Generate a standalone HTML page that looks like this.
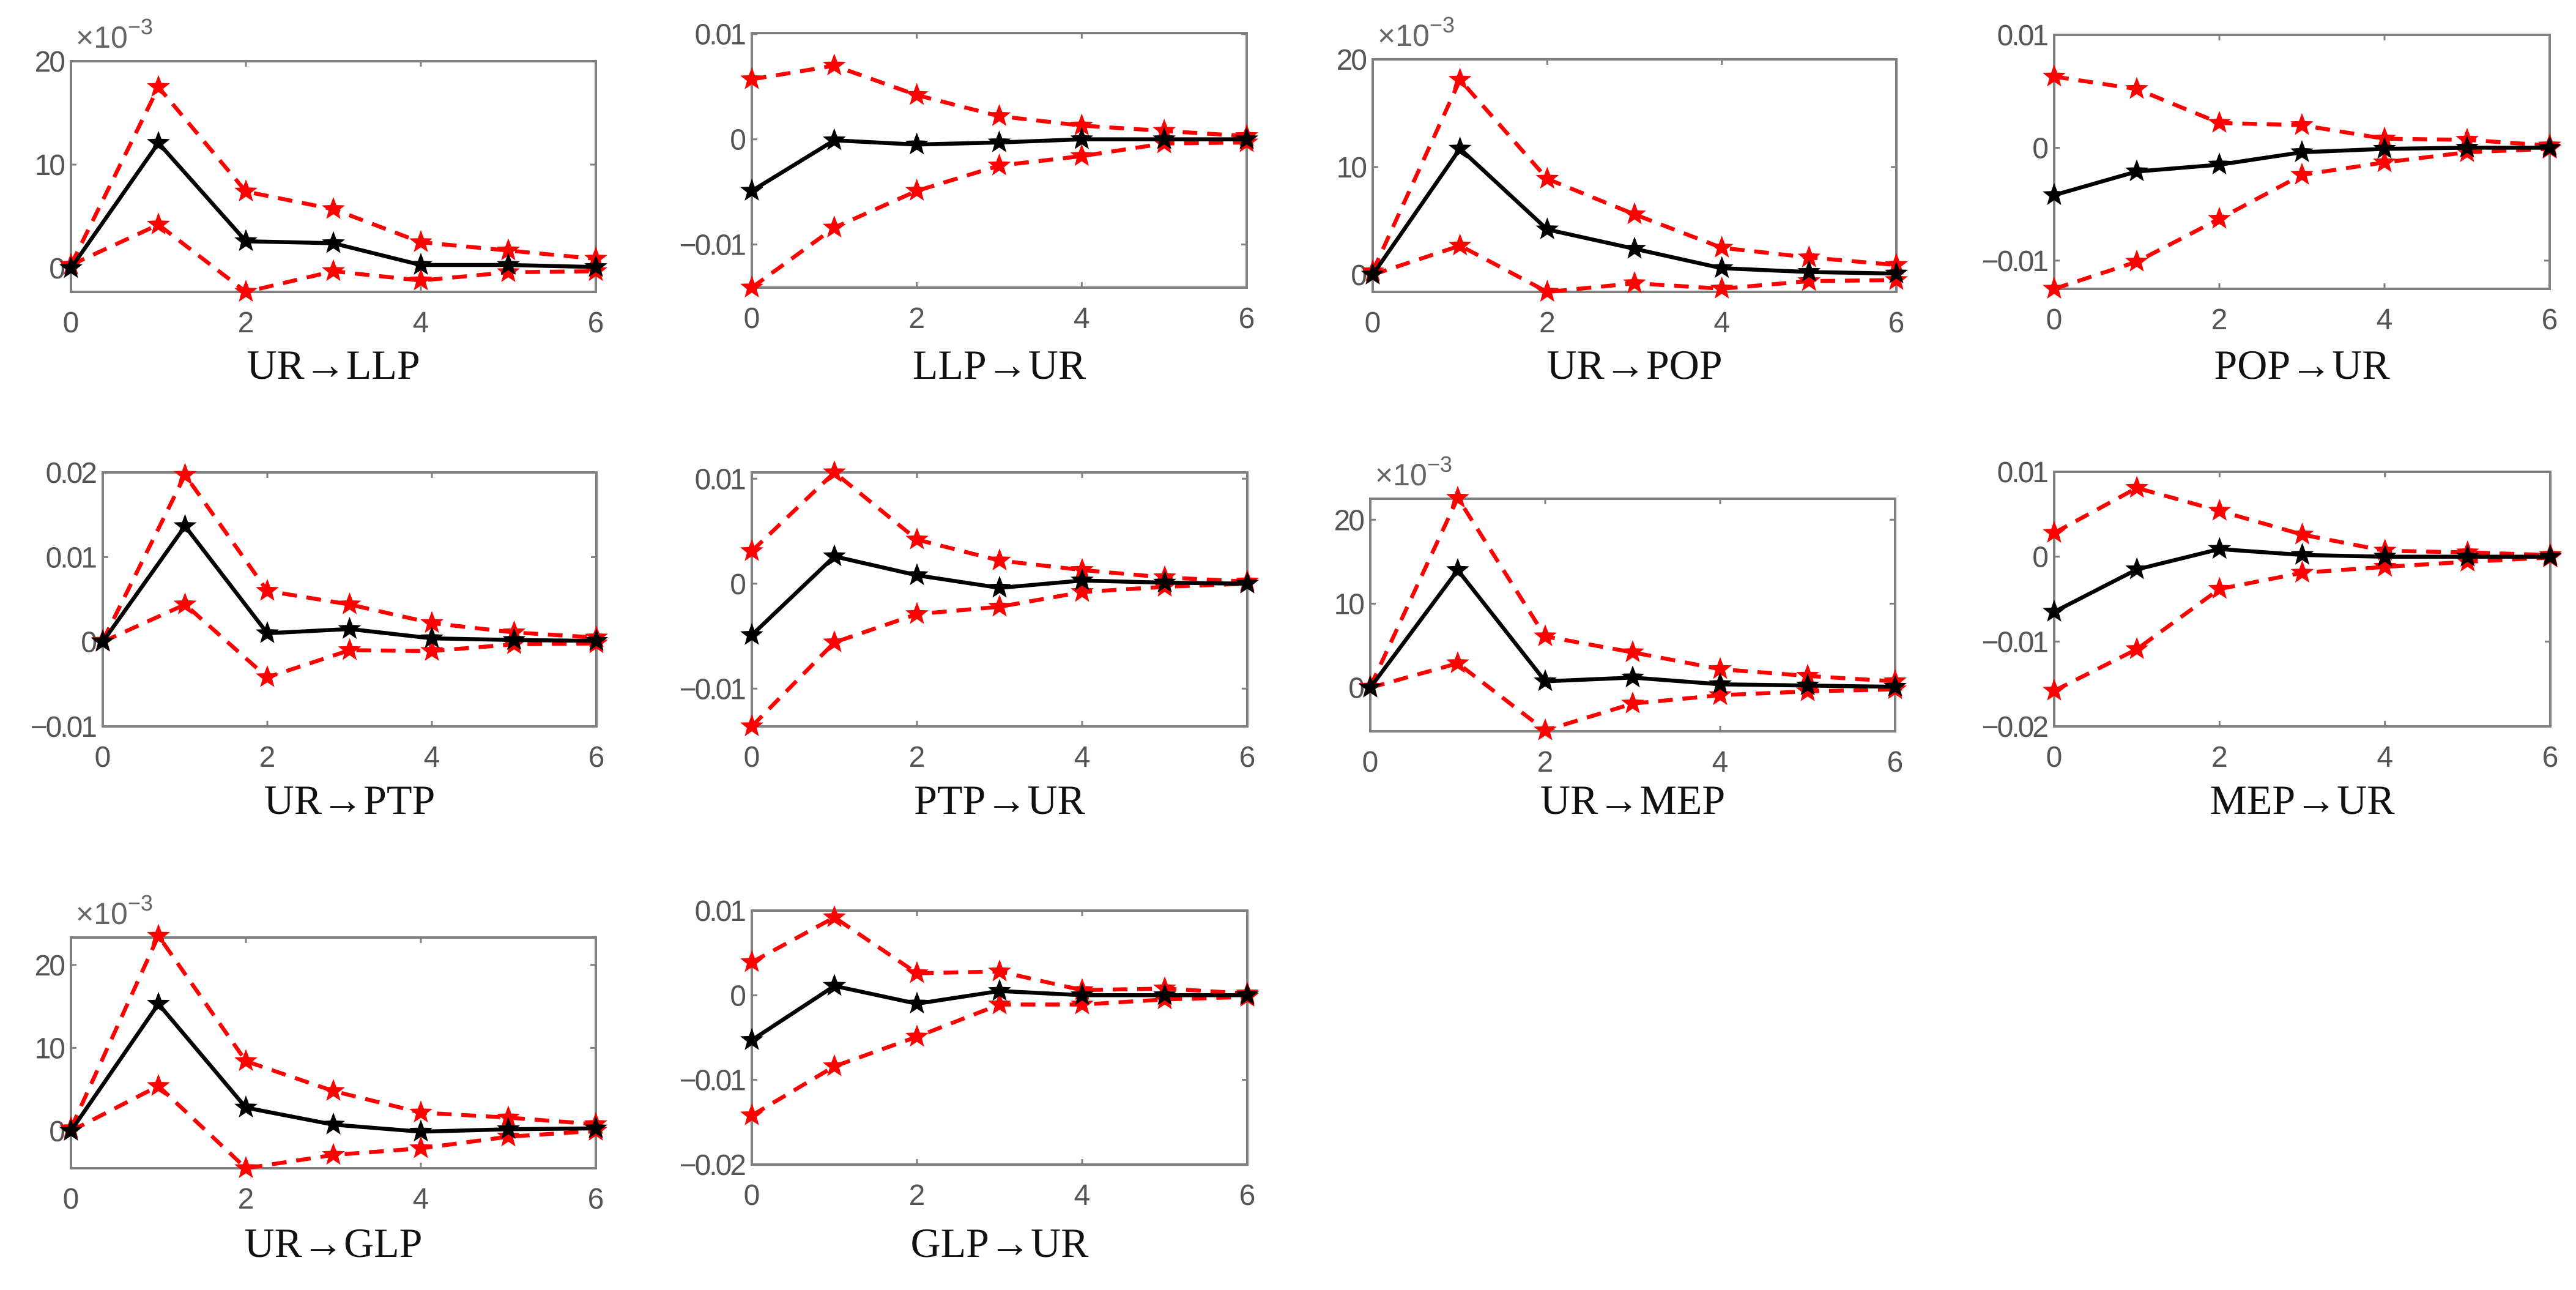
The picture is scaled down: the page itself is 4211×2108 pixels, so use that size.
<!DOCTYPE html>
<html><head><meta charset="utf-8"><style>
html,body{margin:0;padding:0;background:#fff;}
svg{display:block;}
</style></head><body>
<svg id="fig" xmlns="http://www.w3.org/2000/svg" width="4211" height="2108" viewBox="0 0 4211 2108"></svg>
<script>
const panelTitles = ["UR→LLP","LLP→UR","UR→POP","POP→UR","UR→PTP","PTP→UR","UR→MEP","MEP→UR","UR→GLP","GLP→UR"];
const horizons = [0,1,2,3,4,5,6];
const xTicks = [0,2,4,6];
const yLimMin = [-2.3,-0.0141,-1.6,-0.0125,-0.01,-0.0136,-5.2,-0.02,-4.5,-0.02];
const yLimMax = [20,0.0101,20,0.0100,0.02,0.0106,22.5,0.01,23.3,0.01];
const yTickValues = [[0,10,20],[-0.01,0,0.01],[0,10,20],[-0.01,0,0.01],[-0.01,0,0.01,0.02],[-0.01,0,0.01],[0,10,20],[-0.02,-0.01,0,0.01],[0,10,20],[-0.02,-0.01,0,0.01]];
const scaleExp = [true,false,true,false,false,false,true,false,true,false];
const irfMid = [
 [0,12.1,2.6,2.4,0.3,0.3,0.1],
 [-0.0049,-0.0001,-0.0005,-0.0003,0,0,0],
 [0,11.7,4.2,2.4,0.6,0.25,0.1],
 [-0.0042,-0.0021,-0.0015,-0.0004,-0.0001,0,0],
 [0,0.01365,0.001,0.0015,0.0004,0.0002,0.0001],
 [-0.0049,0.0026,0.0008,-0.0004,0.0003,0.0001,0],
 [0,14.0,0.75,1.2,0.4,0.25,0.1],
 [-0.0065,-0.0015,0.0009,0.0002,0,0,0],
 [0,15.3,2.8,0.75,-0.1,0.2,0.3],
 [-0.0053,0.0011,-0.001,0.0005,0,0,0]
];
const irfUpper = [
 [0.3,17.5,7.4,5.7,2.5,1.7,0.9],
 [0.0057,0.007,0.0042,0.0022,0.0013,0.0008,0.0003],
 [0.3,18.1,8.9,5.6,2.5,1.6,0.9],
 [0.0063,0.0052,0.0022,0.002,0.0008,0.0007,0.0002],
 [0.0001,0.0197,0.006,0.0044,0.0022,0.0011,0.0005],
 [0.0031,0.0106,0.0042,0.0022,0.0013,0.0006,0.0002],
 [0.1,22.6,6.1,4.2,2.2,1.4,0.75],
 [0.0028,0.0081,0.0054,0.0026,0.0007,0.0005,0.0002],
 [0.3,23.5,8.4,4.8,2.2,1.6,0.8],
 [0.0039,0.0092,0.0026,0.0028,0.0006,0.0008,0.0002]
];
const irfLower = [
 [0.3,4.2,-2.3,-0.3,-1.2,-0.4,-0.3],
 [-0.0141,-0.0084,-0.0049,-0.0025,-0.0016,-0.0004,-0.0003],
 [0,2.7,-1.6,-0.8,-1.3,-0.6,-0.5],
 [-0.0125,-0.0101,-0.0063,-0.0024,-0.0013,-0.0004,-0.0001],
 [0,0.0044,-0.0042,-0.001,-0.0011,-0.0003,-0.0002],
 [-0.0136,-0.0056,-0.0029,-0.0022,-0.0008,-0.0003,0],
 [0,2.9,-5.1,-1.9,-0.9,-0.45,-0.2],
 [-0.0158,-0.0109,-0.0038,-0.0019,-0.0012,-0.0006,-0.0001],
 [0,5.4,-4.5,-2.9,-2.1,-0.7,0],
 [-0.0142,-0.0084,-0.0049,-0.0011,-0.0011,-0.0005,-0.0002]
];
// layout (pixel boxes) — not data
const boxes = [
 [116,974,100,477],[1229,2038,54,470],[2244,3100,97,477],[3358,4168,57,472],
 [168,975,772,1187],[1229,2039,772,1187],[2240,3098,815,1195],[3358,4169,771,1187],
 [116,974,1532,1909],[1229,2039,1488,1903]
];
const titleY = [596,596,596,596,1307,1307,1307,1307,2031,2031];

const NS = "http://www.w3.org/2000/svg";
const svg = document.getElementById("fig");
function mk(tag, attrs, parent){
  const e = document.createElementNS(NS, tag);
  for (const k in attrs) e.setAttribute(k, attrs[k]);
  (parent||svg).appendChild(e);
  return e;
}
function fmt(v, exp){
  if (exp) return String(v);
  if (v === 0) return "0";
  const s = Math.abs(v).toFixed(2);
  return (v < 0 ? "\u2212" : "") + s;
}
function starPath(cx, cy, r){
  let d = "";
  for (let i = 0; i < 10; i++){
    const rr = i % 2 === 0 ? r : r * 0.42;
    const a = -Math.PI/2 + i * Math.PI/5;
    d += (i ? "L" : "M") + (cx + rr*Math.cos(a)).toFixed(1) + " " + (cy + rr*Math.sin(a)).toFixed(1);
  }
  return d + "Z";
}

for (let p = 0; p < panelTitles.length; p++){
  const [x0, x1, y0, y1] = boxes[p];
  const xs = v => x0 + (v - 0) / 6 * (x1 - x0);
  const ys = v => y1 - (v - yLimMin[p]) / (yLimMax[p] - yLimMin[p]) * (y1 - y0);
  const g = mk("g", {});
  
  

  const frame = mk("rect", {x:x0, y:y0, width:x1-x0, height:y1-y0, fill:"#fff", stroke:"#808080", "stroke-width":4}, g);
  
  

  xTicks.forEach(t => {
    const x = xs(t);
    const tk = mk("path", {d:`M${x} ${y1}V${y1-9}M${x} ${y0}V${y0+9}`, stroke:"#808080", "stroke-width":3}, g);
    
    
    const lb = mk("text", {x:x, y:y1+66, "text-anchor":"middle", "font-family":"Liberation Sans, sans-serif", "font-size":48, fill:"#555"}, g);
    lb.textContent = String(t);
    
    
  });
  yTickValues[p].forEach(t => {
    const y = ys(t);
    const tk = mk("path", {d:`M${x0} ${y}H${x0+9}M${x1} ${y}H${x1-9}`, stroke:"#808080", "stroke-width":3}, g);
    
    
    const lb = mk("text", {x:x0-12, y:y+17, "text-anchor":"end", "font-family":"Liberation Sans, sans-serif", "font-size":48, fill:"#555", "letter-spacing":"-3"}, g);
    lb.textContent = fmt(t, scaleExp[p]);
    
    
  });
  if (scaleExp[p]){
    const ex = mk("text", {x:x0+8, y:y0-22, "font-family":"Liberation Sans, sans-serif", "font-size":50, fill:"#666"}, g);
    ex.textContent = "×10";
    const sup = mk("tspan", {dy:-22, "font-size":36}, ex);
    sup.textContent = "−3";
    
    
  }

  const series = [
    {vals: irfUpper[p], color:"#ff0000", dash:"24 16", name:"upper-band"},
    {vals: irfLower[p], color:"#ff0000", dash:"24 16", name:"lower-band"},
    {vals: irfMid[p], color:"#000000", dash:null, name:"impulse-response"}
  ];
  series.forEach(s => {
    const pts = horizons.map((h,i) => xs(h).toFixed(1) + "," + ys(s.vals[i]).toFixed(1)).join(" ");
    const attrs = {points:pts, fill:"none", stroke:s.color, "stroke-width":6.5, "stroke-linejoin":"round"};
    if (s.dash) attrs["stroke-dasharray"] = s.dash;
    const line = mk("polyline", attrs, g);
    
    
    horizons.forEach((h,i) => {
      const m = mk("path", {d:starPath(xs(h), ys(s.vals[i]), 17), fill:s.color, stroke:s.color, "stroke-width":2}, g);
      
      
    });
  });

  const tt = mk("text", {x:(x0+x1)/2, y:titleY[p]+23, "text-anchor":"middle", "font-family":"Liberation Serif, serif", "font-size":68, fill:"#111"}, g);
  tt.textContent = panelTitles[p];
  
  
}
</script>
</body></html>
